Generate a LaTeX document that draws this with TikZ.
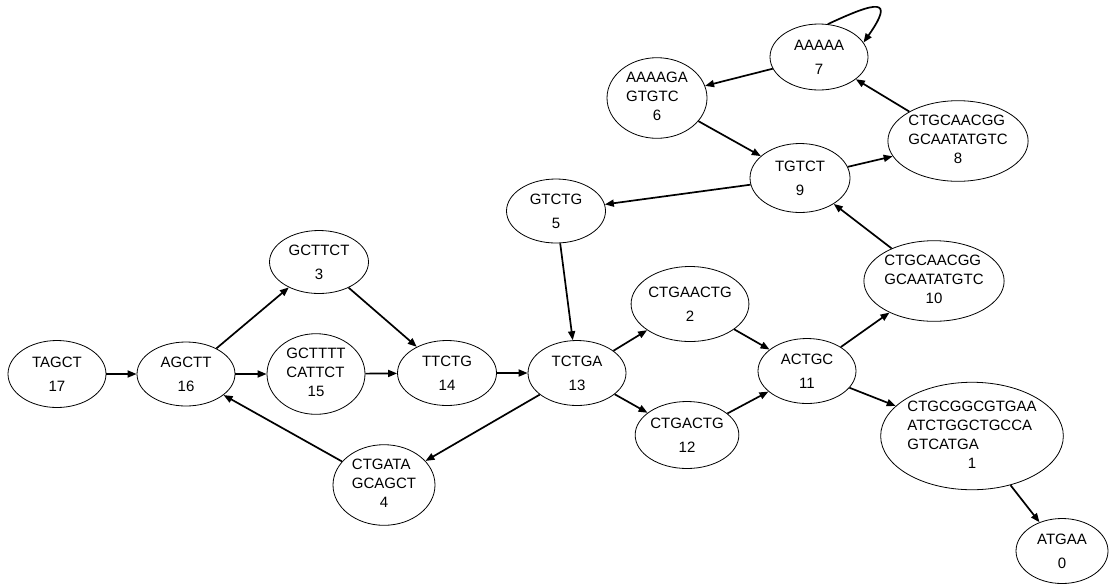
\documentclass[tikz,border=0pt]{standalone}
\usepackage{fontspec}
\setmainfont{Liberation Sans}
\usetikzlibrary{shapes.geometric, arrows.meta}

% k-mer lines set flush left, node number centred below
\newcommand{\kmer}[2]{\begin{tabular}{@{}l@{}}#1\\\multicolumn{1}{@{}c@{}}{#2}\end{tabular}}

\begin{document}
\begin{tikzpicture}[
        x=1pt, y=-1pt,
        every node/.style={font=\fontsize{15}{19}\selectfont},
        seq/.style={ellipse, draw, line width=0.8pt, inner sep=0pt, align=center,
                    minimum width=98pt, minimum height=65pt},
        link/.style={line width=1.7pt, -{Triangle[length=9pt, width=7pt]}}
    ]
    \useasboundingbox (0,0) rectangle (1110,587);

    % Left part of the graph
    \node[seq, minimum height=67pt] (n17) at (57,374) {TAGCT\\[5pt]17};
    \node[seq, minimum height=64pt] (n16) at (186,374) {AGCTT\\[5pt]16};
    \node[seq, minimum width=99pt, minimum height=63pt] (n3) at (319,262) {GCTTCT\\[5pt]3};
    \node[seq, minimum height=75pt] (n15) at (316,374) {\kmer{GCTTTT\\CATTCT}{15}};
    \node[seq, minimum width=99pt] (n14) at (447,373) {TTCTG\\[5pt]14};
    \node[seq, minimum width=102pt, minimum height=74pt] (n4) at (384,485) {\kmer{CTGATA\\GCAGCT}{4}};

    % Middle part
    \node[seq] (n13) at (577,373) {TCTGA\\[5pt]13};
    \node[seq, minimum width=99pt, minimum height=64pt] (n5) at (556,211) {GTCTG\\[5pt]5};
    \node[seq, minimum width=104pt, minimum height=75pt] (n2) at (690,304) {CTGAACTG\\[5pt]2};
    \node[seq, minimum width=100pt, minimum height=67pt] (n12) at (687,435) {CTGACTG\\[5pt]12};
    \node[seq] (n11) at (807,371) {ACTGC\\[5pt]11};

    % Upper cycle
    \node[seq, minimum width=100pt, minimum height=69pt] (n9) at (800,178) {TGTCT\\[5pt]9};
    \node[seq, minimum width=131pt, minimum height=75pt] (n8) at (958,141) {\kmer{CTGCAACGG\\GCAATATGTC}{8}};
    \node[seq, minimum height=66pt] (n7) at (819,57) {AAAAA\\[5pt]7};
    \node[seq, minimum width=100pt, minimum height=78pt] (n6) at (657,98) {\kmer{AAAAGA\\GTGTC}{6}};

    % Right part
    \node[seq, minimum width=130pt, minimum height=76pt] (n10) at (934,281) {\kmer{CTGCAACGG\\GCAATATGTC}{10}};
    \node[seq, minimum width=174pt, minimum height=107pt] (n1) at (972,436) {\kmer{CTGCGGCGTGAA\\ATCTGGCTGCCA\\GTCATGA}{1}};
    \node[seq, minimum width=92pt] (n0) at (1062,551) {ATGAA\\[5pt]0};

    % Edges
    \draw[link] (n17) -- (n16);
    \draw[link] (n16) -- (n3);
    \draw[link] (n16) -- (n15);
    \draw[link] (n3) -- (n14);
    \draw[link] (n15) -- (n14);
    \draw[link] (n14) -- (n13);
    \draw[link] (n13) -- (n4);
    \draw[link] (n4) -- (n16);
    \draw[link] (n5) -- (n13);
    \draw[link] (n13) -- (n2);
    \draw[link] (n13) -- (n12);
    \draw[link] (n2) -- (n11);
    \draw[link] (n12) -- (n11);
    \draw[link] (n11) -- (n10);
    \draw[link] (n11) -- (n1);
    \draw[link] (n1) -- (n0);
    \draw[link] (n10) -- (n9);
    \draw[link] (n9) -- (n5);
    \draw[link] (n9) -- (n8);
    \draw[link] (n8) -- (n7);
    \draw[link] (n7) -- (n6);
    \draw[link] (n6) -- (n9);
    \draw[link] (n7.75) to[out=25, in=55, looseness=3.5] (n7.18);

\end{tikzpicture}
\end{document}
